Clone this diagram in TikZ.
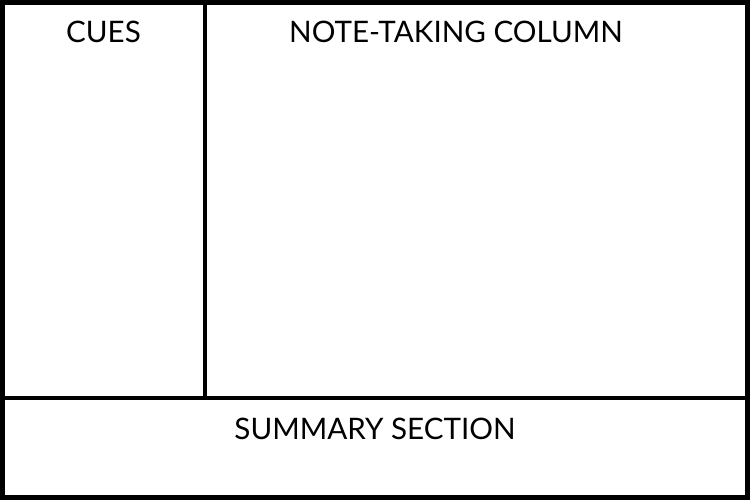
\documentclass[tikz,border=0pt]{standalone}
\usepackage{fontspec}
\setmainfont{Lato}
\begin{document}
\begin{tikzpicture}[x=1pt,y=-1pt,
  label/.style={anchor=base,inner sep=0pt,font=\fontsize{29.6}{31}\selectfont},
  frame/.style={line width=5pt,draw=black},
  divider/.style={line width=4pt,draw=black}]
\useasboundingbox (0,0) rectangle (750,500);
\fill[white] (0,0) rectangle (750,500);
\draw[frame] (2.5,2.5) rectangle (747.5,497.5);
\coordinate (vtop) at (205,0);
\coordinate (vbot) at (205,398);
\coordinate (hl) at (0,398);
\coordinate (hr) at (750,398);
\draw[divider] (vtop) -- (vbot);
\draw[divider] (hl) -- (hr);
\node[label] (cues) at (103.5,42.5) {CUES};
\node[label] (notes) at (456,42.5) {NOTE-TAKING COLUMN};
\node[label] (summary) at (375,439) {SUMMARY SECTION};
\end{tikzpicture}
\end{document}
